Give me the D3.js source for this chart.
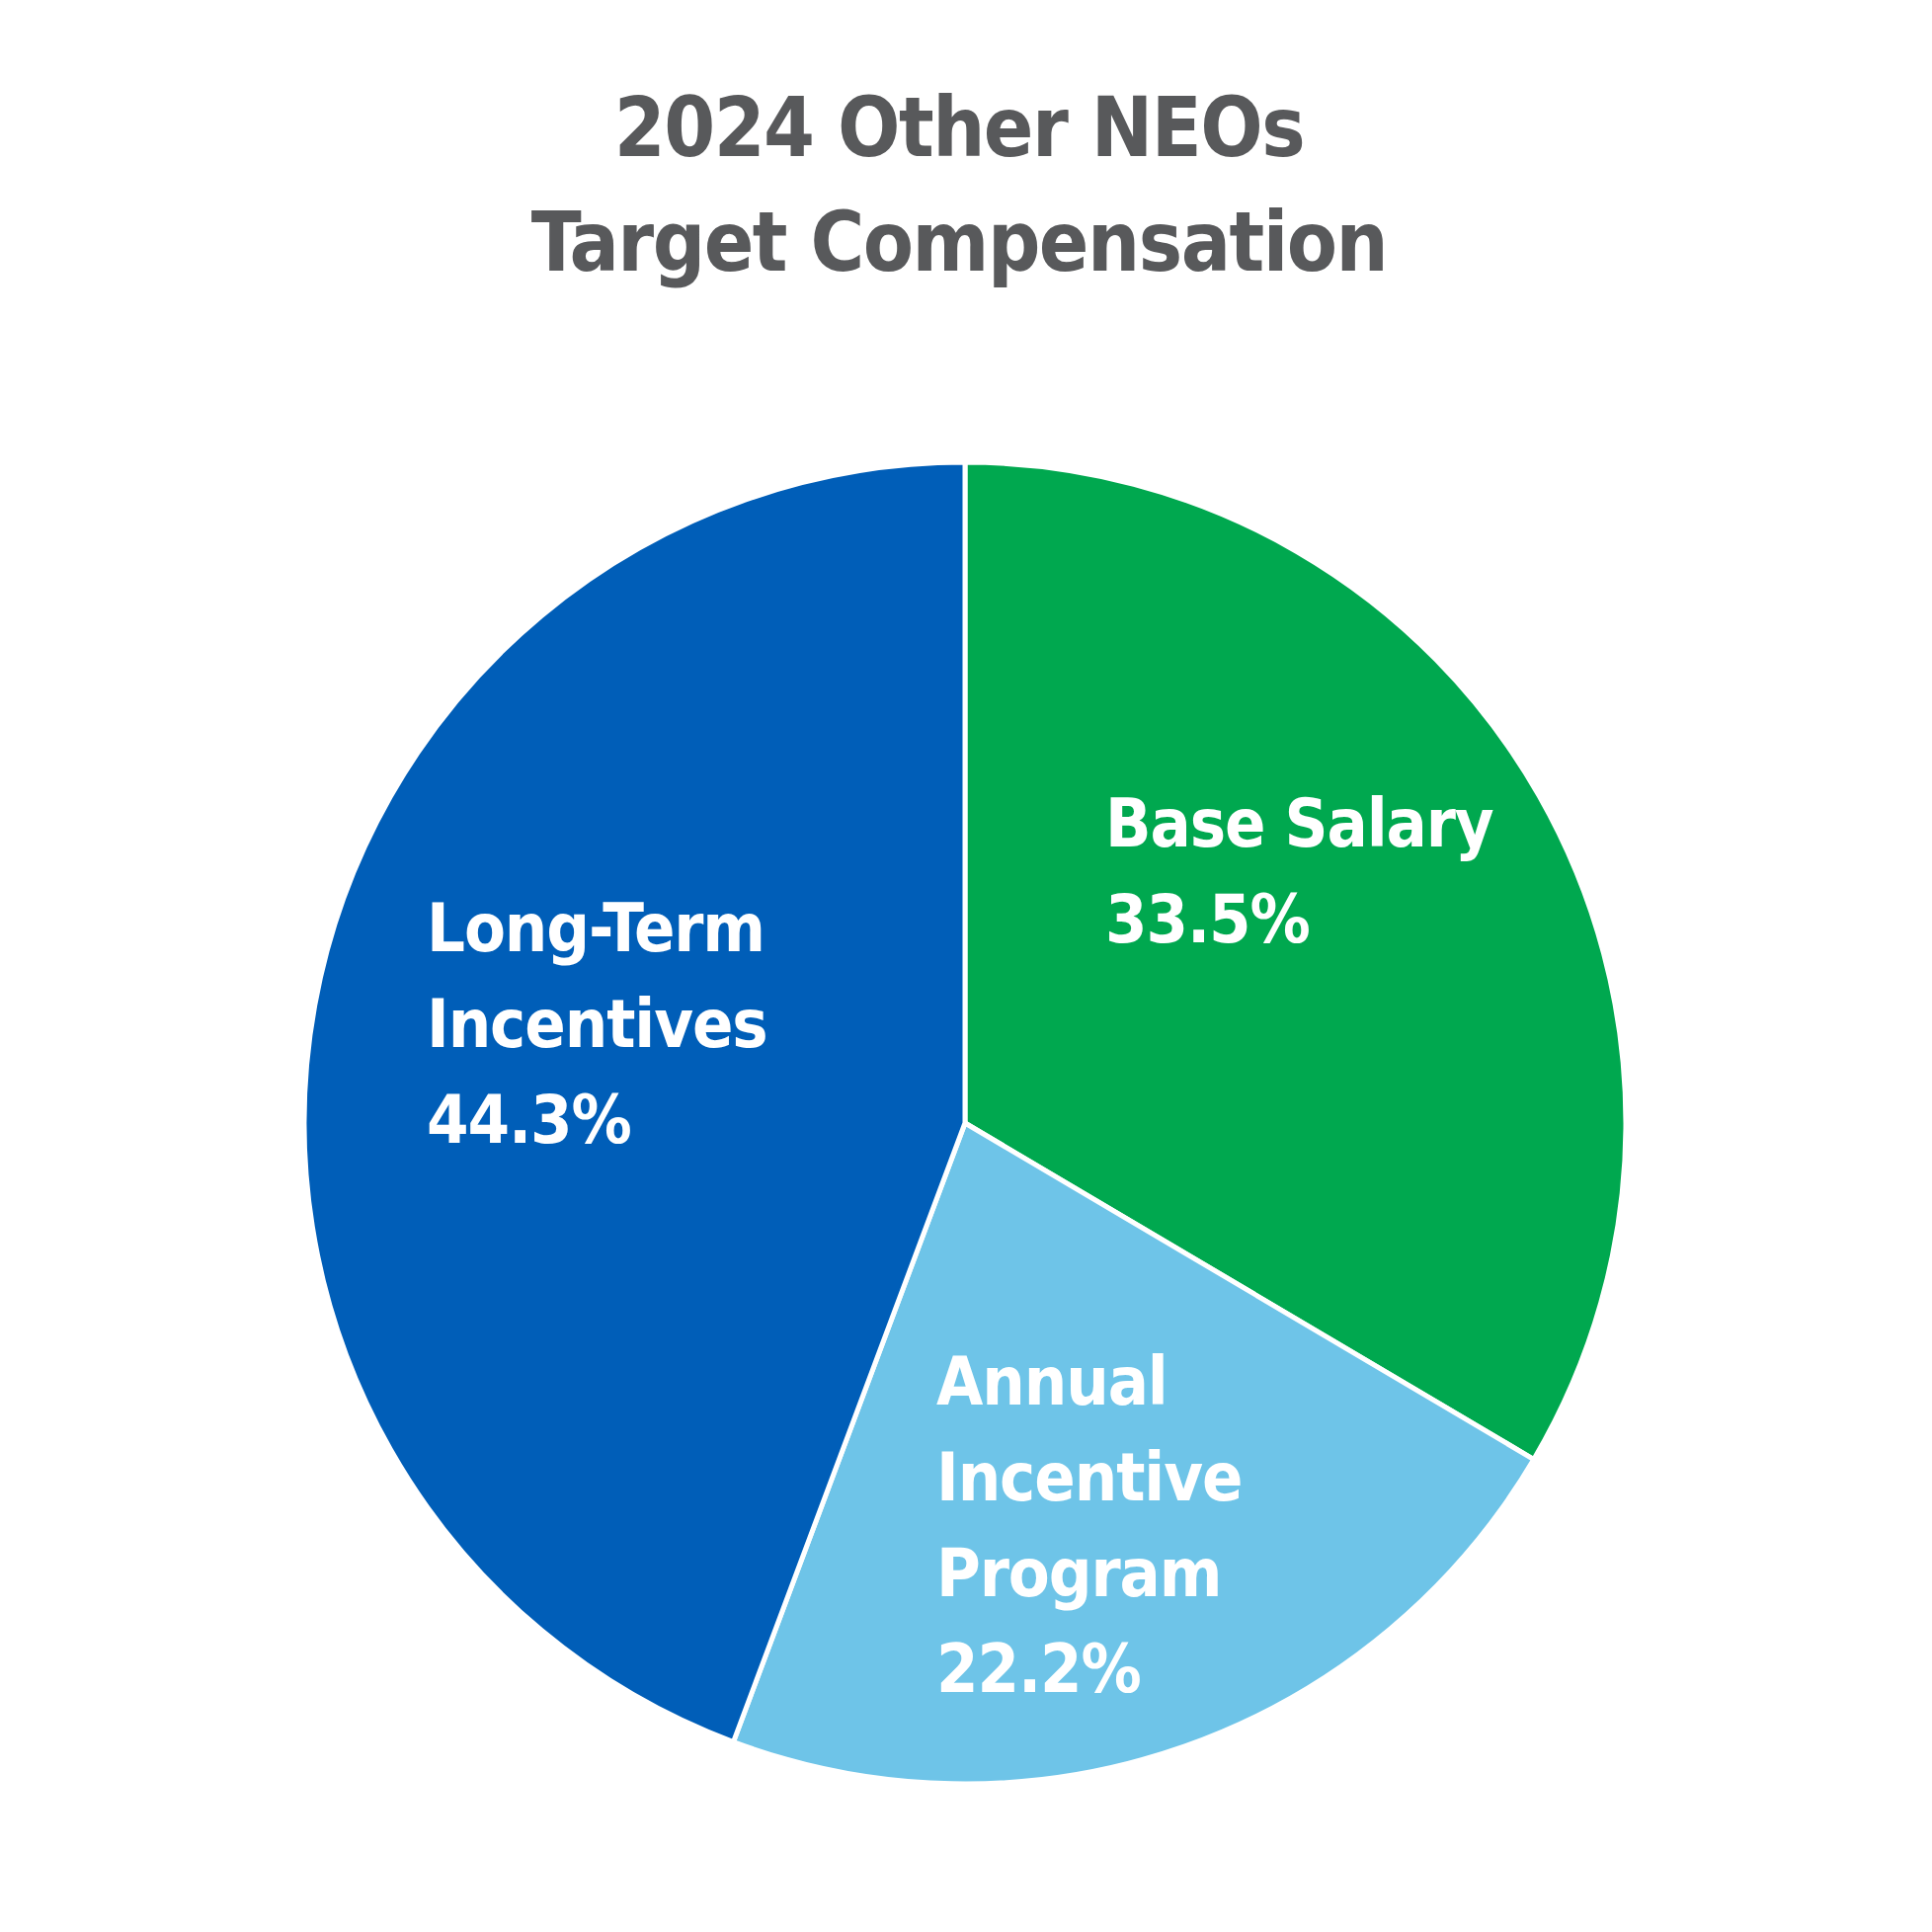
<!DOCTYPE html>
<html><head><meta charset="utf-8">
<script src="https://cdn.jsdelivr.net/npm/d3@7"></script>
<style>html,body{margin:0;padding:0;background:#fff;}</style>
</head><body>
<svg id="chart" width="1956" height="1956"></svg>
<script>
const titleLines = ["2024 Other NEOs", "Target Compensation"];
const categories = ["Base Salary", "Annual Incentive Program", "Long-Term Incentives"];
const values = [33.5, 22.2, 44.3];
const labelLines = [["Base Salary"], ["Annual", "Incentive", "Program"], ["Long-Term", "Incentives"]];
const colors = ["#00A84F", "#6EC4E8", "#005EB8"];

const W = 1956, cx = 977, cy = 1137, R = 669;
const svg = d3.select("#chart");
svg.append("rect").attr("width", W).attr("height", W).attr("fill", "#fff");

const font = "'DejaVu Sans Condensed', 'DejaVu Sans', sans-serif";
svg.append("g").selectAll("text").data(titleLines).join("text")
  .attr("x", 971).attr("y", (d, i) => 158 + i * 116)
  .attr("text-anchor", "middle")
  .attr("font-family", font).attr("font-weight", "bold").attr("font-size", 83)
  .attr("letter-spacing", -1.5)
  .attr("fill", "#58595B").text(d => d);

const pie = d3.pie().sort(null).value(d => d)(values);
const arc = d3.arc().innerRadius(0).outerRadius(R);
const g = svg.append("g").attr("transform", `translate(${cx},${cy})`);
g.selectAll("path").data(pie).join("path")
  .attr("d", arc).attr("fill", (d, i) => colors[i])
  .attr("stroke", "#fff").attr("stroke-width", 5).attr("stroke-linejoin", "miter");

// label anchors (layout)
const labelPos = [{x: 1119, y: 857}, {x: 948, y: 1422}, {x: 432, y: 963}];
const lineH = 97;
const lg = svg.append("g");
labelLines.forEach((lines, i) => {
  const all = lines.concat([d3.format(".1f")(values[i]) + "%"]);
  const t = lg.append("text").attr("font-family", font).attr("font-weight", "bold")
    .attr("font-size", 68).attr("letter-spacing", -1.1).attr("fill", "#fff");
  all.forEach((s, j) => {
    t.append("tspan").attr("x", labelPos[i].x).attr("y", labelPos[i].y + j * lineH).text(s);
  });
});
</script>
</body></html>
